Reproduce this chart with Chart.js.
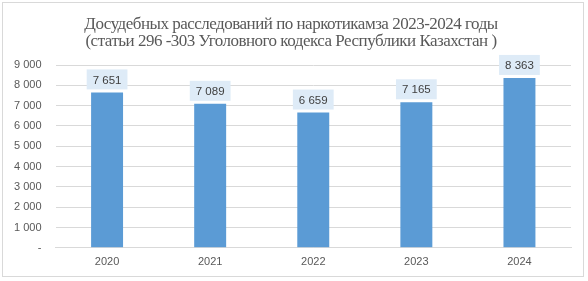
<!DOCTYPE html>
<html>
<head>
<meta charset="utf-8">
<script src="https://cdn.jsdelivr.net/npm/chart.js@4.4.1/dist/chart.umd.min.js"></script>
<style>
  html, body { margin: 0; padding: 0; background: #fff; }
  #wrap { position: absolute; left: 2px; top: 2px; width: 582px; height: 275px; border: 1px solid #d9d9d9; box-sizing: border-box; }
  canvas { position: absolute; left: 0; top: 0; }
</style>
</head>
<body>
<div id="wrap"></div>
<canvas id="chart" width="588" height="281"></canvas>
<script>
const years = ['2020', '2021', '2022', '2023', '2024'];
const cases = [7651, 7089, 6659, 7165, 8363];
const titleLines = [
    'Досудебных расследований по наркотикамза 2023-2024 годы',
    '(статьи 296 -303 Уголовного кодекса Республики Казахстан )'
];

const sansFont = '"Liberation Sans", Arial, sans-serif';

// format like "7 651", zero as "-"
function fmt(v) {
    if (v === 0) return '-';
    return String(v).replace(/\B(?=(\d{3})+(?!\d))/g, ' ');
}

// title drawn by hand so the tight Excel-like spacing can be matched
const chartTitle = {
    id: 'chartTitle',
    afterDraw(chart) {
        const ctx = chart.ctx;
        ctx.save();
        ctx.font = '17px "Liberation Serif", "Times New Roman", serif';
        if ('letterSpacing' in ctx) ctx.letterSpacing = '-0.5px';
        ctx.fillStyle = '#595959';
        ctx.textAlign = 'center';
        ctx.textBaseline = 'alphabetic';
        ctx.fillText(titleLines[0], 291, 29);
        ctx.fillText(titleLines[1], 291, 46);
        ctx.restore();
    }
};

// value labels with light blue boxes above the bars
const valueBoxes = {
    id: 'valueBoxes',
    afterDatasetsDraw(chart) {
        const ctx = chart.ctx;
        const meta = chart.getDatasetMeta(0);
        ctx.save();
        ctx.font = '11.5px ' + sansFont;
        ctx.textAlign = 'center';
        ctx.textBaseline = 'middle';
        meta.data.forEach((bar, i) => {
            const text = fmt(cases[i]);
            const w = ctx.measureText(text).width + 12;
            const h = 20;
            const x = bar.x;
            const y = bar.y - 3 - h / 2;
            ctx.fillStyle = '#deebf7';
            ctx.fillRect(x - w / 2, y - h / 2, w, h);
            ctx.fillStyle = '#404040';
            ctx.fillText(text, x, y + 1);
        });
        ctx.restore();
    }
};

new Chart(document.getElementById('chart'), {
    type: 'bar',
    data: {
        labels: years,
        datasets: [{
            data: cases,
            backgroundColor: '#5b9bd5',
            categoryPercentage: 1,
            barPercentage: 0.31
        }]
    },
    options: {
        responsive: false,
        animation: false,
        layout: { padding: { left: 0, right: 17, top: 65, bottom: 4 } },
        plugins: {
            legend: { display: false },
            tooltip: { enabled: false },
            title: { display: false }
        },
        scales: {
            x: {
                grid: { display: false, drawTicks: false },
                border: { color: '#d9d9d9' },
                ticks: { color: '#595959', font: { family: sansFont, size: 11 }, padding: 8 }
            },
            y: {
                min: 0,
                max: 9000,
                grid: { color: '#d9d9d9', drawTicks: false },
                border: { display: false },
                ticks: {
                    stepSize: 1000,
                    color: '#595959',
                    padding: 14,
                    font: { family: sansFont, size: 11 },
                    callback: (v) => fmt(v)
                }
            }
        }
    },
    plugins: [chartTitle, valueBoxes]
});
</script>
</body>
</html>
